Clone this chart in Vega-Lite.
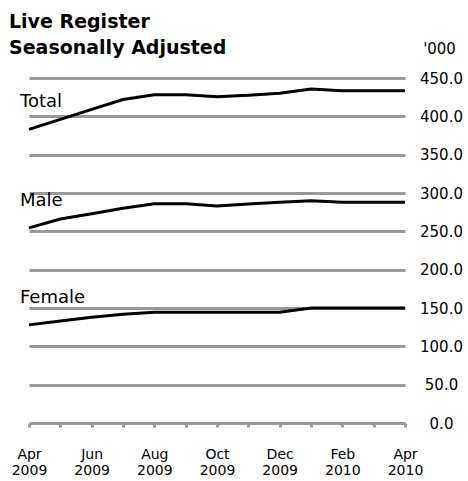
{
  "$schema": "https://vega.github.io/schema/vega-lite/v6.json",
  "width": 376,
  "height": 345,
  "autosize": {"type": "none"},
  "padding": {"left": 29, "top": 78, "right": 63, "bottom": 58},
  "background": "white",
  "title": {
    "text": ["Live Register", "Seasonally Adjusted"],
    "anchor": "start",
    "frame": "group",
    "dx": -20,
    "dy": 39,
    "offset": 22,
    "font": "DejaVu Sans",
    "fontSize": 19,
    "fontWeight": "bold",
    "lineHeight": 26,
    "color": "black"
  },
  "config": {
    "view": {"stroke": null},
    "font": "DejaVu Sans"
  },
  "data": {
    "values": [
      {"month": "Apr 2009", "series": "Total", "value": 383},
      {"month": "May 2009", "series": "Total", "value": 396},
      {"month": "Jun 2009", "series": "Total", "value": 409},
      {"month": "Jul 2009", "series": "Total", "value": 422},
      {"month": "Aug 2009", "series": "Total", "value": 428},
      {"month": "Sep 2009", "series": "Total", "value": 428},
      {"month": "Oct 2009", "series": "Total", "value": 425.5},
      {"month": "Nov 2009", "series": "Total", "value": 427.5},
      {"month": "Dec 2009", "series": "Total", "value": 430},
      {"month": "Jan 2010", "series": "Total", "value": 435.5},
      {"month": "Feb 2010", "series": "Total", "value": 433.5},
      {"month": "Mar 2010", "series": "Total", "value": 433.5},
      {"month": "Apr 2010", "series": "Total", "value": 433.5},
      {"month": "Apr 2009", "series": "Male", "value": 254.5},
      {"month": "May 2009", "series": "Male", "value": 266},
      {"month": "Jun 2009", "series": "Male", "value": 273},
      {"month": "Jul 2009", "series": "Male", "value": 280},
      {"month": "Aug 2009", "series": "Male", "value": 286},
      {"month": "Sep 2009", "series": "Male", "value": 286},
      {"month": "Oct 2009", "series": "Male", "value": 283},
      {"month": "Nov 2009", "series": "Male", "value": 285.5},
      {"month": "Dec 2009", "series": "Male", "value": 288},
      {"month": "Jan 2010", "series": "Male", "value": 290},
      {"month": "Feb 2010", "series": "Male", "value": 288},
      {"month": "Mar 2010", "series": "Male", "value": 288},
      {"month": "Apr 2010", "series": "Male", "value": 288},
      {"month": "Apr 2009", "series": "Female", "value": 128},
      {"month": "May 2009", "series": "Female", "value": 133},
      {"month": "Jun 2009", "series": "Female", "value": 138},
      {"month": "Jul 2009", "series": "Female", "value": 142},
      {"month": "Aug 2009", "series": "Female", "value": 144.5},
      {"month": "Sep 2009", "series": "Female", "value": 144.5},
      {"month": "Oct 2009", "series": "Female", "value": 144.5},
      {"month": "Nov 2009", "series": "Female", "value": 144.5},
      {"month": "Dec 2009", "series": "Female", "value": 144.5},
      {"month": "Jan 2010", "series": "Female", "value": 150},
      {"month": "Feb 2010", "series": "Female", "value": 150},
      {"month": "Mar 2010", "series": "Female", "value": 150},
      {"month": "Apr 2010", "series": "Female", "value": 150}
    ]
  },
  "encoding": {
    "x": {
      "field": "month",
      "type": "ordinal",
      "sort": null,
      "scale": {"type": "point", "padding": 0},
      "axis": {
        "title": null,
        "domain": false,
        "grid": false,
        "ticks": true,
        "tickColor": "#999999",
        "tickWidth": 3,
        "tickSize": 4,
        "labelAngle": 0,
        "labelAlign": "center",
        "labelBaseline": "alphabetic",
        "labelPadding": 31,
        "labelFontSize": 14,
        "labelLineHeight": 16,
        "labelColor": "black",
        "labelOverlap": false,
        "labelFlush": false,
        "labelExpr": "indexof(['Apr 2009','Jun 2009','Aug 2009','Oct 2009','Dec 2009','Feb 2010','Apr 2010'], datum.value) >= 0 ? split(datum.value, ' ') : ''"
      }
    },
    "y": {
      "field": "value",
      "type": "quantitative",
      "scale": {"domain": [0, 450], "nice": false},
      "axis": {
        "orient": "right",
        "values": [0, 50, 100, 150, 200, 250, 300, 350, 400, 450],
        "format": ".1f",
        "domain": false,
        "ticks": false,
        "tickSize": 0,
        "grid": true,
        "gridColor": "#999999",
        "gridWidth": 3,
        "labelAlign": "center",
        "labelBaseline": "middle",
        "labelPadding": 36,
        "labelFontSize": 15,
        "labelColor": "black",
        "title": "'000",
        "titleAngle": 0,
        "titleAlign": "center",
        "titleBaseline": "alphabetic",
        "titleFontWeight": "normal",
        "titleFontSize": 15,
        "titleColor": "black",
        "titleX": 34,
        "titleY": -25
      }
    }
  },
  "layer": [
    {
      "mark": {"type": "line", "color": "black", "strokeWidth": 3},
      "encoding": {"detail": {"field": "series"}}
    },
    {
      "transform": [{"filter": "datum.month == 'Apr 2009'"}],
      "mark": {"type": "text", "align": "left", "baseline": "alphabetic", "dx": -9, "dy": -22, "fontSize": 18, "color": "black"},
      "encoding": {"text": {"field": "series"}}
    }
  ]
}
